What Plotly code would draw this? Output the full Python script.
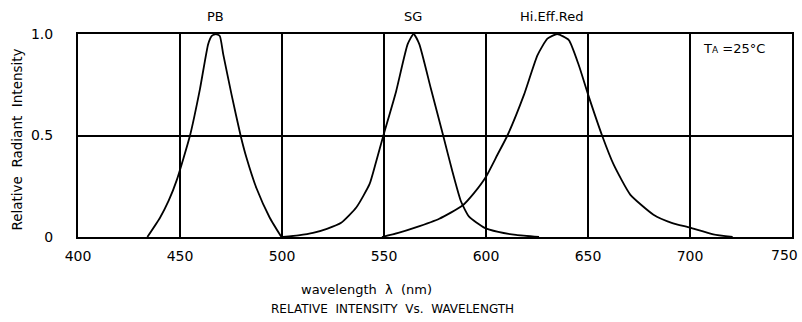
import plotly.graph_objects as go

# ---- data ----
pb_wl = [434.0, 440.2, 444.5, 448.4, 454.9, 459.8, 463.8, 465.5, 467.6, 469.5, 471.2, 475.3, 479.7, 482.6, 487.5, 494.0, 499.7]
pb_int = [0.0, 0.095, 0.18, 0.28, 0.50, 0.73, 0.95, 0.99, 1.0, 0.99, 0.90, 0.70, 0.50, 0.39, 0.24, 0.095, 0.0]

sg_wl = [500.5, 508.0, 515.2, 522.0, 529.0, 536.4, 542.9, 546.1, 549.7, 555.9, 561.6, 564.5, 567.3, 573.0, 579.0, 583.6, 587.7, 591.7, 599.1, 606.0, 614.7, 626.0]
sg_int = [0.0, 0.008, 0.02, 0.04, 0.07, 0.145, 0.26, 0.37, 0.50, 0.716, 0.95, 1.0, 0.95, 0.73, 0.50, 0.32, 0.176, 0.10, 0.046, 0.025, 0.01, 0.0]

red_wl = [549.0, 557.0, 565.2, 577.1, 588.5, 594.0, 600.0, 605.6, 610.5, 618.6, 625.2, 630.1, 634.9, 640.6, 645.5, 650.1, 656.9, 662.6, 670.7, 682.1, 691.0, 700.0, 711.4, 720.9]
red_int = [0.0, 0.02, 0.046, 0.09, 0.155, 0.215, 0.297, 0.405, 0.50, 0.70, 0.895, 0.977, 1.0, 0.97, 0.846, 0.70, 0.50, 0.356, 0.209, 0.11, 0.07, 0.046, 0.013, 0.0]

x_ticks = [400, 450, 500, 550, 600, 650, 700, 750]
x_tick_text = ["400", "450", "500", "550", "600", "650", "700", ""]
last_tick_label = "750"
y_ticks = [0, 0.5, 1.0]
y_tick_text = ["0", "0.5", "1.0"]

series_labels = ["PB", "SG", "Hi.Eff.Red"]
label_x = [467.6, 564.4, 632.3]

FONT = "DejaVu Sans"

fig = go.Figure()
for wl, it, name in [(pb_wl, pb_int, "PB"), (sg_wl, sg_int, "SG"), (red_wl, red_int, "Hi.Eff.Red")]:
    fig.add_trace(go.Scatter(x=wl, y=it, mode="lines", name=name,
                             line=dict(color="black", width=1.8, shape="spline", smoothing=0.5),
                             showlegend=False))

for lx, lt in zip(label_x, series_labels):
    fig.add_annotation(x=lx, y=1.084, xref="x", yref="paper", text=lt, showarrow=False,
                       xanchor="center", yanchor="middle",
                       font=dict(size=13, color="black", family=FONT))

fig.add_annotation(x=721.5, y=0.931, xref="x", yref="paper",
                   text="T<span style='font-size:9px'>A</span> =25°C", showarrow=False,
                   xanchor="center", yanchor="middle",
                   font=dict(size=13, color="black", family=FONT))

# the last x tick label sits slightly left of / above its tick in the reference
fig.add_annotation(x=746.2, y=-0.089, xref="x", yref="paper", text=last_tick_label, showarrow=False,
                   xanchor="center", yanchor="middle",
                   font=dict(size=14, color="black", family=FONT))

fig.add_annotation(x=541.4, y=-0.261, xref="x", yref="paper", text="wavelength  λ  (nm)",
                   showarrow=False, xanchor="center", yanchor="middle",
                   font=dict(size=13, color="black", family=FONT))
fig.add_annotation(x=554.0, y=-0.355, xref="x", yref="paper",
                   text="RELATIVE  INTENSITY  Vs.  WAVELENGTH", showarrow=False,
                   xanchor="center", yanchor="middle",
                   font=dict(size=12, color="black", family=FONT))
fig.add_annotation(x=-0.0854, y=0.48, xref="paper", yref="paper", text="Relative  Radiant  Intensity",
                   textangle=-90, showarrow=False, xanchor="center", yanchor="middle",
                   font=dict(size=13.5, color="black", family=FONT))

fig.update_xaxes(range=[400, 750], tickvals=x_ticks, ticktext=x_tick_text, showgrid=True,
                 gridcolor="black", gridwidth=2,
                 showline=True, linecolor="black", linewidth=2, mirror=True, zeroline=False,
                 ticks="", ticklabelstandoff=5, tickfont=dict(size=14, color="black", family=FONT))
fig.update_yaxes(range=[0, 1], tickvals=y_ticks, ticktext=y_tick_text, showgrid=True, gridcolor="black",
                 gridwidth=2, showline=True, linecolor="black", linewidth=2, mirror=True, zeroline=False,
                 ticks="", ticklabelstandoff=20, tickfont=dict(size=14, color="black", family=FONT))

fig.update_layout(width=802, height=322, margin=dict(l=78, r=10, t=34, b=85, autoexpand=False),
                  plot_bgcolor="white", paper_bgcolor="white", showlegend=False)

# remove the default page margin so the 802x322 figure fills the window exactly
fig.write_html("out.html", config={"displayModeBar": False},
               post_script="document.body.style.margin='0';document.body.style.overflow='hidden';")
